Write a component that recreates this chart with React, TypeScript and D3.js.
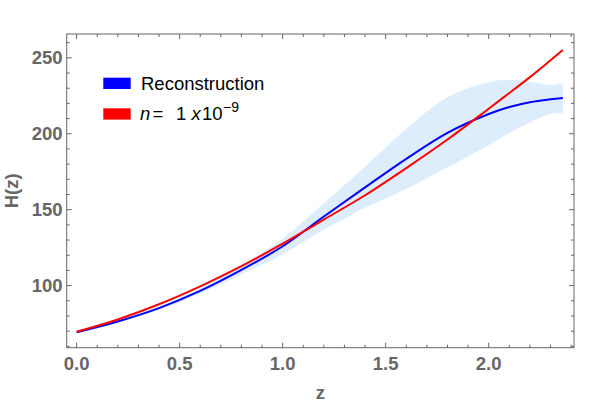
import React from 'react';
import * as d3 from 'd3';

const zGrid = [0, 0.2, 0.4, 0.6, 0.8, 1.0, 1.2, 1.4, 1.6, 1.8, 2.0, 2.1, 2.2, 2.3, 2.36];
const reconstruction = [69.3, 76.4, 85.2, 96.5, 110.3, 125.9, 145.5, 164.7, 183.5, 200.6, 213.0, 217.6, 220.8, 222.7, 223.5];
const modelCurve = [69.6, 77.7, 87.7, 99.5, 112.8, 127.6, 143.5, 159.5, 177.4, 196.2, 216.5, 226.8, 237.3, 248.4, 255.2];
const bandLower = [68.8, 75.6, 84.0, 94.7, 107.3, 120.7, 136.7, 151.2, 163.7, 178.0, 192.5, 200.5, 207.3, 213.1, 213.8];
const bandUpper = [69.8, 77.2, 86.4, 98.3, 113.3, 131.1, 154.3, 178.2, 203.3, 224.0, 233.9, 235.5, 234.3, 232.1, 233.2];

const xMajorTicks = [0, 0.5, 1.0, 1.5, 2.0];
const xTickLabels = ['0.0', '0.5', '1.0', '1.5', '2.0'];
const yMajorTicks = [100, 150, 200, 250];
const yTickLabels = ['100', '150', '200', '250'];

const W = 609;
const H = 406;
const left = 66.7, right = 574, top = 34, bottom = 347.7;
const xDomain = [-0.048, 2.414];
const yDomain = [59.1, 265.7];

const FONT = '"Liberation Sans", Arial, sans-serif';
const AXIS = '#666666';

export default function App() {
  const x = d3.scaleLinear().domain(xDomain).range([left, right]);
  const y = d3.scaleLinear().domain(yDomain).range([bottom, top]);

  const xMinor = d3.range(0, 25).map((i) => i / 10).filter((v) => Math.abs(v * 2 - Math.round(v * 2)) > 1e-6);
  const yMinor = d3.range(60, 261, 10).filter((v) => v % 50 !== 0);

  const curve = d3.curveCatmullRom.alpha(0.5);

  const area = d3
    .area<number>()
    .x((_, i) => x(zGrid[i]))
    .y0((_, i) => y(bandLower[i]))
    .y1((_, i) => y(bandUpper[i]))
    .curve(curve);

  const line = (vals: number[]) =>
    d3
      .line<number>()
      .x((_, i) => x(zGrid[i]))
      .y((v) => y(v))
      .curve(curve)(vals) as string;

  const major = 5, minor = 3;

  return (
    <svg width={W} height={H} style={{ position: 'absolute', left: 0, top: 0 }} fontFamily={FONT}>
      <rect x={0} y={0} width={W} height={H} fill="#fff" />
      <path d={area(bandLower) as string} fill="#ddedfc" stroke="none" />
      <path d={line(reconstruction)} fill="none" stroke="#0000ff" strokeWidth={2} />
      <path d={line(modelCurve)} fill="none" stroke="#ff0000" strokeWidth={2} />

      {/* frame */}
      <rect x={left} y={top} width={right - left} height={bottom - top} fill="none" stroke={AXIS} strokeWidth={1} />

      {/* x ticks */}
      {xMajorTicks.map((t) => (
        <g key={'xm' + t}>
          <line x1={x(t)} x2={x(t)} y1={bottom} y2={bottom - major} stroke={AXIS} />
          <line x1={x(t)} x2={x(t)} y1={top} y2={top + major} stroke={AXIS} />
        </g>
      ))}
      {xMinor.map((t) => (
        <g key={'xn' + t}>
          <line x1={x(t)} x2={x(t)} y1={bottom} y2={bottom - minor} stroke={AXIS} />
          <line x1={x(t)} x2={x(t)} y1={top} y2={top + minor} stroke={AXIS} />
        </g>
      ))}
      {xMajorTicks.map((t, i) => (
        <text key={'xl' + t} x={x(t)} y={369.5} textAnchor="middle" fontSize={18.5} fontWeight="bold" fill={AXIS}>
          {xTickLabels[i]}
        </text>
      ))}

      {/* y ticks */}
      {yMajorTicks.map((t) => (
        <g key={'ym' + t}>
          <line x1={left} x2={left + major} y1={y(t)} y2={y(t)} stroke={AXIS} />
          <line x1={right} x2={right - major} y1={y(t)} y2={y(t)} stroke={AXIS} />
        </g>
      ))}
      {yMinor.map((t) => (
        <g key={'yn' + t}>
          <line x1={left} x2={left + minor} y1={y(t)} y2={y(t)} stroke={AXIS} />
          <line x1={right} x2={right - minor} y1={y(t)} y2={y(t)} stroke={AXIS} />
        </g>
      ))}
      {yMajorTicks.map((t, i) => (
        <text key={'yl' + t} x={62.5} y={y(t) + 6.6} textAnchor="end" fontSize={18.5} fontWeight="bold" fill={AXIS}>
          {yTickLabels[i]}
        </text>
      ))}

      {/* axis labels */}
      <text x={320.3} y={399} textAnchor="middle" fontSize={18.5} fontWeight="bold" fill={AXIS}>z</text>
      <text
        transform={`translate(18.3, ${(top + bottom) / 2}) rotate(-90)`}
        textAnchor="middle"
        fontSize={18.5}
        fontWeight="bold"
        fill={AXIS}
      >
        H(z)
      </text>

      {/* legend */}
      <rect x={103.3} y={77.7} width={27.4} height={11.3} fill="#0000ff" />
      <rect x={103.3} y={108.3} width={27.4} height={11.3} fill="#ff0000" />
      <text x={141} y={90.3} fontSize={18.5} fill="#000">Reconstruction</text>
      <g fontSize={18.5} fill="#000">
        <text x={140} y={120} fontStyle="italic">n</text>
        <text x={152.5} y={120}>=</text>
        <text x={176} y={120}>1</text>
        <text x={191.5} y={120} fontStyle="italic">x</text>
        <text x={202} y={120}>10</text>
        <text x={223} y={111.5} fontSize={14}>−9</text>
      </g>
    </svg>
  );
}
